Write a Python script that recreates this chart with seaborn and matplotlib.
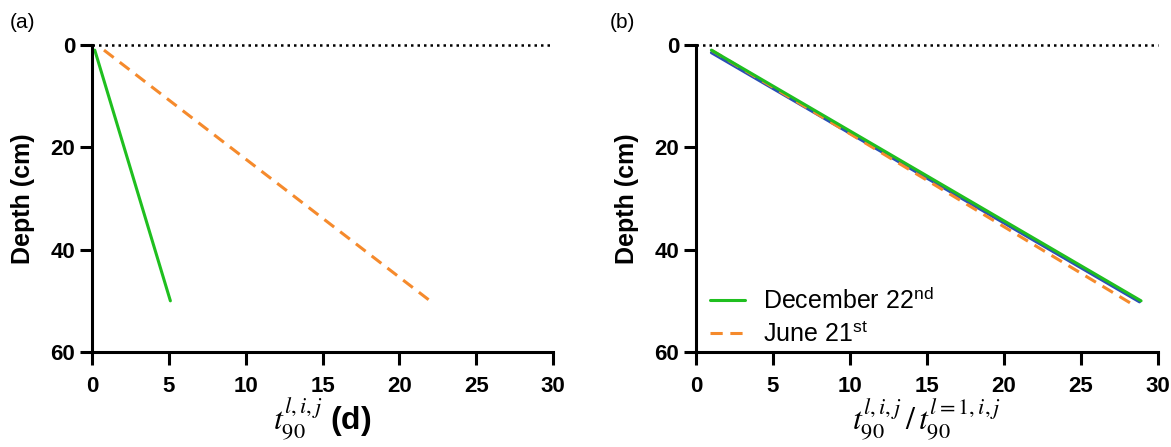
import matplotlib
matplotlib.use("Agg")
import matplotlib.pyplot as plt
import seaborn as sns

sns.set_theme(style="white")
plt.rcParams['font.family'] = ['Liberation Sans', 'DejaVu Sans']
plt.rcParams['mathtext.fontset'] = 'custom'
plt.rcParams['mathtext.rm'] = 'STIXGeneral'
plt.rcParams['mathtext.it'] = 'STIXGeneral:italic'
plt.rcParams['mathtext.bf'] = 'Liberation Sans:bold'
plt.rcParams['mathtext.sf'] = 'Liberation Sans'
for k in ['text.color', 'axes.labelcolor', 'xtick.color', 'ytick.color', 'axes.edgecolor']:
    plt.rcParams[k] = 'black'

# Data
depth = [1, 50]
a_dec = [0.18, 5.1]
a_jun = [0.78, 22.0]
b_dec = [1.0, 28.9]
b_jun = [1.0, 28.3]
b_jun_depth = [1, 50.6]
b_blue = [1.0, 28.8]
blue_depth = [1.5, 50.2]

x_ticks = [0, 5, 10, 15, 20, 25, 30]
y_ticks = [0, 20, 40, 60]

GREEN = '#1fbf1f'
ORANGE = '#f58a2c'
BLUE = '#2a4fb5'

fig = plt.figure(figsize=(11.71, 4.47), dpi=100)
ax1 = fig.add_axes([92/1171, 1-352/447, (553-92)/1171, (352-45)/447])
ax2 = fig.add_axes([696/1171, 1-352/447, (1158-696)/1171, (352-45)/447])

def style(ax):
    ax.set_xlim(0, 30)
    ax.set_ylim(60, 0)
    ax.set_xticks(x_ticks)
    ax.set_yticks(y_ticks)
    for s in ['top', 'right']:
        ax.spines[s].set_visible(False)
    for s in ['left', 'bottom']:
        ax.spines[s].set_linewidth(2.2)
        ax.spines[s].set_color('black')
    ax.tick_params(axis='both', direction='out', length=9, width=2.2, colors='black',
                   labelsize=16, bottom=True, left=True)
    ax.tick_params(axis='x', pad=8)
    ax.tick_params(axis='y', pad=3)
    for lab in ax.get_xticklabels() + ax.get_yticklabels():
        lab.set_fontweight('bold')
    ax.axhline(0, color='black', linestyle=(0, (1, 1.6)), lw=1.8, clip_on=False, zorder=1)
    ax.set_ylabel('Depth (cm)', fontsize=18, fontweight='bold', labelpad=11)
    ax.set_facecolor('white')

sns.lineplot(x=a_dec, y=depth, ax=ax1, color=GREEN, lw=2.2, sort=False, estimator=None)
sns.lineplot(x=a_jun, y=depth, ax=ax1, color=ORANGE, lw=2.2, sort=False, estimator=None,
             linestyle=(0, (4, 2.5)))
style(ax1)
ax1.set_xlabel(r'$t_{90}^{l,i,j}\ \mathbf{(d)}$', fontsize=23, labelpad=0)

sns.lineplot(x=b_blue, y=blue_depth, ax=ax2, color=BLUE, lw=2.2, sort=False, estimator=None)
sns.lineplot(x=b_jun, y=b_jun_depth, ax=ax2, color=ORANGE, lw=2.2, sort=False, estimator=None,
             linestyle=(0, (4, 2.5)), label=r'June 21$^{\mathsf{st}}$')
sns.lineplot(x=b_dec, y=depth, ax=ax2, color=GREEN, lw=2.2, sort=False, estimator=None,
             label=r'December 22$^{\mathsf{nd}}$')
style(ax2)
ax2.set_xlabel(r'$t_{90}^{l,i,j}\,/\,t_{90}^{l=1,i,j}$', fontsize=23, labelpad=0)

h, l = ax2.get_legend_handles_labels()
leg = ax2.legend([h[1], h[0]], [l[1], l[0]], loc='lower left', frameon=False, fontsize=18,
                 handlelength=1.4, handletextpad=0.7, borderaxespad=0.0, labelspacing=0.35,
                 borderpad=0.2, bbox_to_anchor=(0.02, 0.0))

fig.text(10/1171, 1-22/447, '(a)', fontsize=15, va='center', ha='left')
fig.text(610/1171, 1-22/447, '(b)', fontsize=15, va='center', ha='left')

fig.savefig('out.png', dpi=100, facecolor='white')
